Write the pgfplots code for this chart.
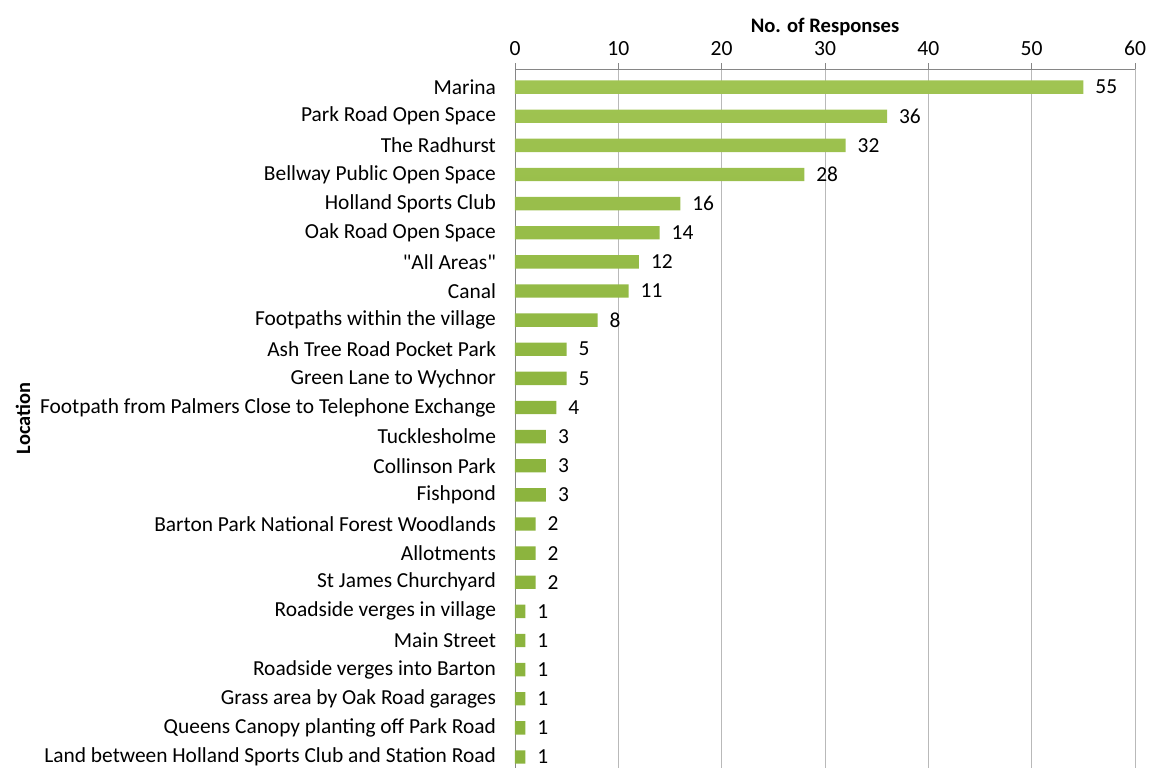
\documentclass[border=0pt]{standalone}
\usepackage{pgfplots}
\pgfplotsset{compat=1.18}
\usepackage{fontspec}
\setmainfont{Carlito}
\newfontfamily\qfont{Carlito}
\definecolor{barg}{RGB}{140,180,62}
\definecolor{barl}{RGB}{160,196,82}
\definecolor{gridc}{RGB}{185,185,185}
\definecolor{axc}{RGB}{134,134,134}
\begin{document}
\begin{tikzpicture}
\begin{axis}[
  at={(0,0)}, anchor=south west,
  scale only axis, width=310pt, height=349.5pt,
  xbar, bar width=0.46,
  y dir=reverse,
  xmin=0, xmax=60, ymin=-0.62, ymax=23.38,
  axis x line*=top, axis y line*=left,
  axis line style={axc},
  xtick={0,10,...,60},
  xmajorgrids, major grid style={gridc},
  tick align=outside,
  major tick length=3pt,
  x tick style={axc},
  ytick={0,...,23},
  y tick style={draw=none},
  minor ytick={-0.5,0.5,...,23.5},
  minor y tick style={axc},
  minor tick length=3pt,
  yticklabels={Marina,Park Road Open Space,The Radhurst,Bellway Public Open Space,Holland Sports Club,Oak Road Open Space,{{\qfont"All Areas"}},Canal,Footpaths within the village,Ash Tree Road Pocket Park,Green Lane to Wychnor,Footpath from Palmers Close to Telephone Exchange,Tucklesholme,Collinson Park,Fishpond,Barton Park National Forest Woodlands,Allotments,St James Churchyard,Roadside verges in village,Main Street,Roadside verges into Barton,Grass area by Oak Road garages,Queens Canopy planting off Park Road,Land between Holland Sports Club and Station Road},
  yticklabel style={font=\fontsize{10.7}{11}\selectfont, xshift=-3pt},
  xticklabel style={font=\fontsize{10.8}{11}\selectfont},
  /pgf/number format/assume math mode=true,
  xlabel={\textbf{No. of Responses}},
  xlabel style={font=\fontsize{10.3}{11}\selectfont, yshift=-4pt},
  ylabel={\textbf{Location}},
  ylabel style={font=\fontsize{10.2}{11}\selectfont, yshift=-2pt},
  nodes near coords,
  nodes near coords style={font=\fontsize{10.7}{11}\selectfont, xshift=2.5pt, text=black},
  clip=false,
]
\addplot[draw=none, top color=barl, bottom color=barg, middle color=barg] coordinates {
(55,0) (36,1) (32,2) (28,3) (16,4) (14,5) (12,6) (11,7) (8,8) (5,9) (5,10) (4,11) (3,12) (3,13) (3,14) (2,15) (2,16) (2,17) (1,18) (1,19) (1,20) (1,21) (1,22) (1,23)};
\end{axis}
\pgfresetboundingbox
\path[use as bounding box] (-257.5pt,0) rectangle (317pt,384pt);
\end{tikzpicture}
\end{document}
